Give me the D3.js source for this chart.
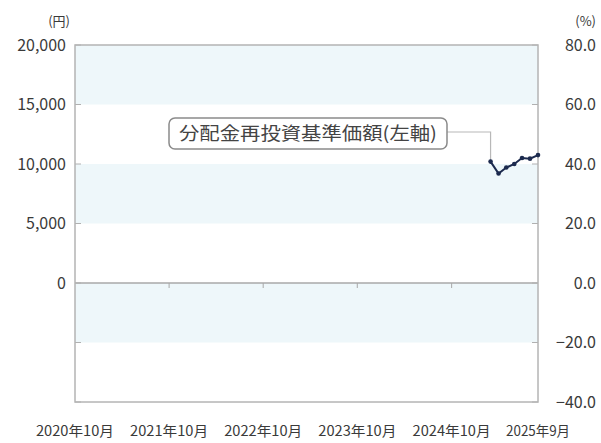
<!DOCTYPE html>
<html>
<head>
<meta charset="utf-8">
<script src="https://cdn.jsdelivr.net/npm/d3@7"></script>
<style>
  html, body { margin: 0; padding: 0; background: #fff; overflow: hidden; }
  svg { display: block; }
  text { font-family: "Noto Sans CJK JP", "Noto Sans", sans-serif; fill: #3a3a3a; }
</style>
</head>
<body>
<svg width="601" height="443"></svg>
<script>
// chart data
const navDates = ['2025-03', '2025-04', '2025-05', '2025-06', '2025-07', '2025-08', '2025-09'];
const navValues = [10200, 9200, 9700, 10000, 10500, 10450, 10750];
const leftTicks = [20000, 15000, 10000, 5000, 0, -5000, -10000];
const leftTickLabels = ['20,000', '15,000', '10,000', '5,000', '0', '', ''];
const rightTicks = [80, 60, 40, 20, 0, -20, -40];
const xTickDates = ['2020-10', '2021-10', '2022-10', '2023-10', '2024-10', '2025-09'];
const xTickLabels = ['2020年10月', '2021年10月', '2022年10月', '2023年10月', '2024年10月', '2025年9月'];
const seriesLabel = '分配金再投資基準価額(左軸)';

const svg = d3.select('svg');
const parseMonth = d3.timeParse('%Y-%m');

const margin = { top: 45, right: 63, bottom: 41, left: 75 };
const width = +svg.attr('width');
const height = +svg.attr('height');
const innerWidth = width - margin.left - margin.right;
const innerHeight = height - margin.top - margin.bottom;

const xScale = d3.scaleTime()
  .domain([parseMonth('2020-10'), parseMonth('2025-09')])
  .range([0, innerWidth]);

const yLeft = d3.scaleLinear()
  .domain([-10000, 20000])
  .range([innerHeight, 0]);

const yRight = d3.scaleLinear()
  .domain([-40, 80])
  .range([innerHeight, 0]);

const g = svg.append('g')
  .attr('transform', `translate(${margin.left},${margin.top})`);

// right-align a text by measuring it (keeps text-anchor at start)
const alignRight = (sel, edge) => sel.each(function () {
  d3.select(this).attr('x', edge - this.getComputedTextLength());
});

// alternating bands
const bandEdges = d3.pairs(leftTicks);
g.selectAll('.band')
  .data(bandEdges.filter((d, i) => i % 2 === 0))
  .join('rect')
  .attr('x', 0)
  .attr('width', innerWidth)
  .attr('y', d => yLeft(d[0]))
  .attr('height', d => yLeft(d[1]) - yLeft(d[0]))
  .attr('fill', '#eef7fa');

// zero line with year ticks hanging below it
g.append('line')
  .attr('x1', 0).attr('x2', innerWidth)
  .attr('y1', yLeft(0)).attr('y2', yLeft(0))
  .attr('stroke', '#a8a8a8')
  .attr('stroke-width', 1.5);

g.selectAll('.xtick')
  .data(xTickDates.slice(1, -1))
  .join('line')
  .attr('x1', d => xScale(parseMonth(d)))
  .attr('x2', d => xScale(parseMonth(d)))
  .attr('y1', yLeft(0))
  .attr('y2', yLeft(0) + 5)
  .attr('stroke', '#a8a8a8');

// inner tick marks on both sides
g.selectAll('.ltick')
  .data(leftTicks)
  .join('line')
  .attr('x1', 0).attr('x2', 6)
  .attr('y1', d => yLeft(d)).attr('y2', d => yLeft(d))
  .attr('stroke', '#b0b0b0');

g.selectAll('.rtick')
  .data(rightTicks)
  .join('line')
  .attr('x1', innerWidth - 6).attr('x2', innerWidth)
  .attr('y1', d => yRight(d)).attr('y2', d => yRight(d))
  .attr('stroke', '#b0b0b0');

// frame
g.append('rect')
  .attr('width', innerWidth)
  .attr('height', innerHeight)
  .attr('fill', 'none')
  .attr('stroke', '#b4b4b4')
  .attr('stroke-width', 1.5);

// left axis labels (lower two ticks carry no label)
const leftLabelled = leftTicks.filter((d, i) => leftTickLabels[i] !== '');
g.selectAll('.llabel')
  .data(leftLabelled)
  .join('text')
  .attr('y', d => yLeft(d) + 5.5)
  .attr('font-size', 16)
  .text((d, i) => leftTickLabels[i])
  .call(alignRight, -9);

g.append('text')
  .attr('y', -19)
  .attr('font-size', 13)
  .text('(円)')
  .call(alignRight, -5);

// right axis labels
g.selectAll('.rlabel')
  .data(rightTicks)
  .join('text')
  .attr('y', d => yRight(d) + 5.5)
  .attr('font-size', 16)
  .text(d => d3.format('.1f')(d))
  .call(alignRight, innerWidth + 58);

g.append('text')
  .attr('y', -19)
  .attr('font-size', 13)
  .text('(%)')
  .call(alignRight, innerWidth + 58);

// x labels
g.selectAll('.xlabel')
  .data(xTickDates)
  .join('text')
  .attr('x', d => xScale(parseMonth(d)))
  .attr('y', innerHeight + 34)
  .attr('text-anchor', 'middle')
  .attr('font-size', 14)
  .attr('textLength', (d, i) => i === xTickDates.length - 1 ? 64 : 78)
  .attr('lengthAdjust', 'spacingAndGlyphs')
  .text((d, i) => xTickLabels[i]);

// NAV line
const navData = navDates.map((d, i) => ({ date: parseMonth(d), value: navValues[i] }));

const line = d3.line()
  .x(d => xScale(d.date))
  .y(d => yLeft(d.value));

// callout leader and box
const first = navData[0];
const boxX = 94, boxY = 73, boxW = 278, boxH = 31;
g.append('path')
  .attr('d', `M${boxX + boxW},${boxY + 14}H${xScale(first.date)}V${yLeft(first.value)}`)
  .attr('fill', 'none')
  .attr('stroke', '#b8b8b8')
  .attr('stroke-width', 1.2);

g.append('rect')
  .attr('x', boxX).attr('y', boxY)
  .attr('width', boxW).attr('height', boxH)
  .attr('rx', 6)
  .attr('fill', '#fff')
  .attr('stroke', '#8a8a8a')
  .attr('stroke-width', 1.5);

g.append('text')
  .attr('x', boxX + boxW / 2)
  .attr('y', boxY + boxH / 2 + 6.5)
  .attr('text-anchor', 'middle')
  .attr('font-size', 18)
  .attr('textLength', 258)
  .attr('lengthAdjust', 'spacingAndGlyphs')
  .style('fill', '#444')
  .text(seriesLabel);

g.append('path')
  .attr('d', line(navData))
  .attr('fill', 'none')
  .attr('stroke', '#1c2a4e')
  .attr('stroke-width', 2);

g.selectAll('.dot')
  .data(navData)
  .join('circle')
  .attr('cx', d => xScale(d.date))
  .attr('cy', d => yLeft(d.value))
  .attr('r', 2.3)
  .attr('fill', '#1c2a4e');
</script>
</body>
</html>
